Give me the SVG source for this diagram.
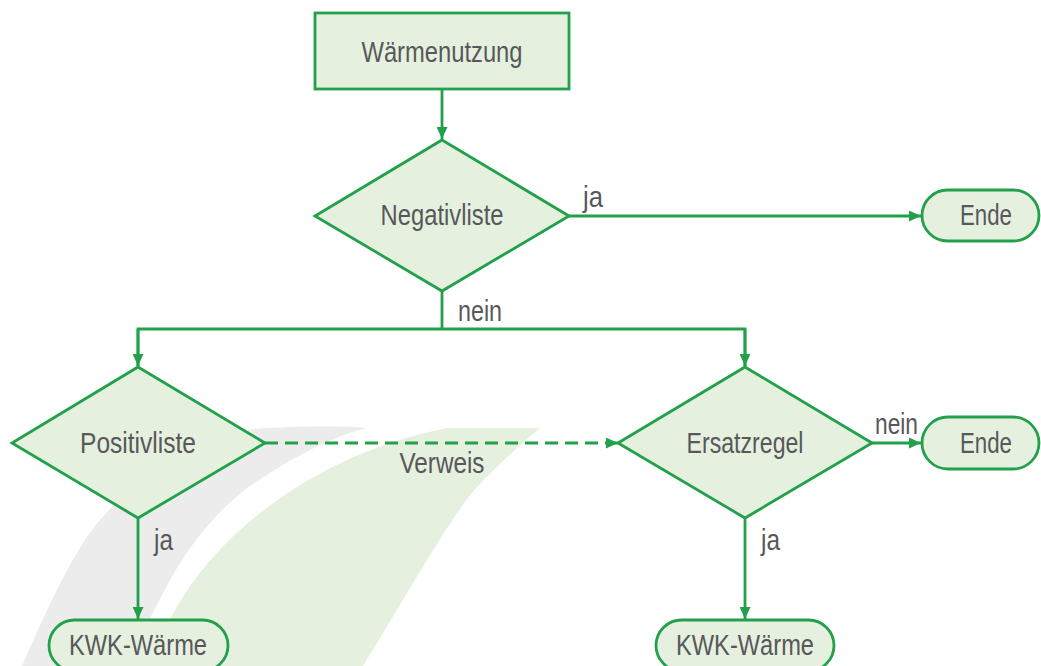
<svg xmlns="http://www.w3.org/2000/svg" width="1041" height="666" viewBox="0 0 1041 666">
<style>
.node{fill:#e5f0df;stroke:#22a04b;stroke-width:2.8}
.lbl{font-family:"Liberation Sans",Arial,sans-serif;font-size:29px;fill:#58585a;text-anchor:middle}
.el{font-family:"Liberation Sans",Arial,sans-serif;font-size:29px;fill:#58585a}
.con{fill:none;stroke:#22a04b;stroke-width:2.8}
</style>
<defs>
<marker id="arr" markerUnits="userSpaceOnUse" markerWidth="12" markerHeight="11" refX="12" refY="5.5" orient="auto">
<path d="M0,0 L12,5.5 L0,11 z" fill="#22a04b"/>
</marker>
</defs>
<rect width="1041" height="666" fill="#ffffff"/>
<g id="background">
<path d="M253,429 C300,426 340,426 367,428 C340,434 300,452 250,486 C215,512 190,545 170,580 C155,608 140,640 120,666 L22,666 C40,625 60,580 80,548 C105,505 160,455 253,429 Z" fill="#ebeceb"/>
<path d="M447,428 L540,428 C520,445 490,472 470,495 C440,535 410,590 363,666 L150,666 C165,620 195,570 240,530 C290,485 360,445 447,428 Z" fill="#e5f0df"/>
</g>
<g id="connectors">
<line class="con" x1="442" y1="89" x2="442" y2="139" marker-end="url(#arr)"/>
<line class="con" x1="568" y1="216" x2="921" y2="216" marker-end="url(#arr)"/>
<polyline class="con" points="442,291 442,329"/>
<polyline class="con" points="138,366 138,329 745,329 745,366"/>
<line class="con" x1="138" y1="329" x2="138" y2="366" marker-end="url(#arr)"/>
<line class="con" x1="745" y1="329" x2="745" y2="366" marker-end="url(#arr)"/>
<line class="con" x1="265" y1="443" x2="618" y2="443" stroke-dasharray="13 7" marker-end="url(#arr)"/>
<line class="con" x1="872" y1="443" x2="921" y2="443" marker-end="url(#arr)"/>
<line class="con" x1="138" y1="518" x2="138" y2="619" marker-end="url(#arr)"/>
<line class="con" x1="745" y1="518" x2="745" y2="619" marker-end="url(#arr)"/>
<text class="el" x="583" y="207" textLength="20" lengthAdjust="spacingAndGlyphs">ja</text>
<text class="el" x="458" y="321" textLength="44" lengthAdjust="spacingAndGlyphs">nein</text>
<text class="lbl" x="442" y="473" textLength="85" lengthAdjust="spacingAndGlyphs">Verweis</text>
<text class="el" x="875" y="434" textLength="43" lengthAdjust="spacingAndGlyphs">nein</text>
<text class="el" x="154" y="550" textLength="19" lengthAdjust="spacingAndGlyphs">ja</text>
<text class="el" x="761" y="550" textLength="19" lengthAdjust="spacingAndGlyphs">ja</text>
</g>
<g id="n-waermenutzung">
<rect class="node" x="315" y="13" width="254" height="76"/>
<text class="lbl" x="442" y="62" textLength="161" lengthAdjust="spacingAndGlyphs">Wärmenutzung</text>
</g>
<g id="n-negativliste">
<polygon class="node" points="442,140 569,216 442,291 315,216"/>
<text class="lbl" x="442" y="225" textLength="123" lengthAdjust="spacingAndGlyphs">Negativliste</text>
</g>
<g id="n-ende1">
<rect class="node" x="922" y="190" width="117" height="51" rx="25.5"/>
<text class="lbl" x="986" y="225" textLength="52" lengthAdjust="spacingAndGlyphs">Ende</text>
</g>
<g id="n-positivliste">
<polygon class="node" points="138,367 265,443 138,518 12,443"/>
<text class="lbl" x="138" y="453" textLength="116" lengthAdjust="spacingAndGlyphs">Positivliste</text>
</g>
<g id="n-ersatzregel">
<polygon class="node" points="745,367 872,443 745,518 618,443"/>
<text class="lbl" x="745" y="453" textLength="117" lengthAdjust="spacingAndGlyphs">Ersatzregel</text>
</g>
<g id="n-ende2">
<rect class="node" x="922" y="417" width="117" height="52" rx="26"/>
<text class="lbl" x="986" y="453" textLength="52" lengthAdjust="spacingAndGlyphs">Ende</text>
</g>
<g id="n-kwk1">
<rect class="node" x="49" y="620" width="179" height="51" rx="25.5"/>
<text class="lbl" x="138" y="655" textLength="138" lengthAdjust="spacingAndGlyphs">KWK-Wärme</text>
</g>
<g id="n-kwk2">
<rect class="node" x="656" y="620" width="178" height="51" rx="25.5"/>
<text class="lbl" x="745" y="655" textLength="138" lengthAdjust="spacingAndGlyphs">KWK-Wärme</text>
</g>
</svg>
